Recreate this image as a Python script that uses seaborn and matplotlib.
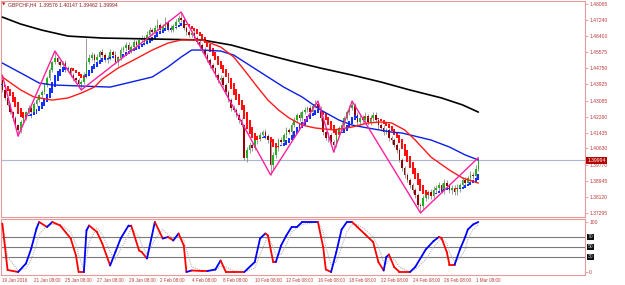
import numpy as np
import pandas as pd
import matplotlib
matplotlib.use("Agg")
import matplotlib.pyplot as plt
import matplotlib.transforms as mtransforms
from matplotlib import font_manager
import seaborn as sns

sns.set_theme(style="white")
installed = {f.name for f in font_manager.fontManager.ttflist}
if 'Liberation Sans Narrow' in installed:
    plt.rcParams['font.family'] = ['Liberation Sans Narrow', 'DejaVu Sans']
    fscale = 1.2
else:
    plt.rcParams['font.family'] = ['Liberation Sans', 'DejaVu Sans']
    fscale = 1.0

symbol = "GBPCHF,H4"
last_ohlc = ["1.39576", "1.40147", "1.39462", "1.39994"]
last_price = 1.39994

# H4 closes, 19 Jan 2016 -> 1 Mar 2016
first_open = 1.4414
closes = [
    1.4363, 1.4322, 1.4286, 1.4249, 1.4219, 1.4182, 1.4157, 1.4198, 1.4219, 1.4249,
    1.4270, 1.4249, 1.4291, 1.4311, 1.4337, 1.4353, 1.4389, 1.4425, 1.4466, 1.4507,
    1.4528, 1.4507, 1.4492, 1.4502, 1.4466, 1.4476, 1.4440, 1.4425, 1.4414, 1.4394,
    1.4404, 1.4440, 1.4507, 1.4528, 1.4543, 1.4518, 1.4533, 1.4559, 1.4543, 1.4518,
    1.4528, 1.4559, 1.4543, 1.4507, 1.4528, 1.4569, 1.4580, 1.4595, 1.4569, 1.4585,
    1.4610, 1.4595, 1.4621, 1.4631, 1.4610, 1.4647, 1.4672, 1.4662, 1.4683, 1.4698,
    1.4672, 1.4688, 1.4714, 1.4683, 1.4672, 1.4693, 1.4714, 1.4734, 1.4724, 1.4683,
    1.4662, 1.4647, 1.4657, 1.4631, 1.4610, 1.4595, 1.4569, 1.4543, 1.4518, 1.4492,
    1.4476, 1.4440, 1.4414, 1.4425, 1.4389, 1.4353, 1.4311, 1.4270, 1.4260, 1.4234,
    1.4208, 1.4182, 1.4012, 1.4053, 1.4079, 1.4064, 1.4105, 1.4115, 1.4131, 1.4146,
    1.4126, 1.4105, 1.3976, 1.4028, 1.4064, 1.4105, 1.4095, 1.4131, 1.4157, 1.4146,
    1.4182, 1.4208, 1.4234, 1.4219, 1.4249, 1.4260, 1.4270, 1.4249, 1.4280, 1.4291,
    1.4270, 1.4219, 1.4146, 1.4115, 1.4131, 1.4095, 1.4079, 1.4131, 1.4167, 1.4182,
    1.4219, 1.4249, 1.4270, 1.4286, 1.4234, 1.4198, 1.4219, 1.4208, 1.4229, 1.4198,
    1.4219, 1.4234, 1.4208, 1.4182, 1.4167, 1.4146, 1.4157, 1.4115, 1.4105, 1.4079,
    1.4053, 1.4002, 1.3961, 1.3925, 1.3899, 1.3873, 1.3847, 1.3821, 1.3770, 1.3765,
    1.3806, 1.3821, 1.3837, 1.3816, 1.3847, 1.3858, 1.3873, 1.3847, 1.3883, 1.3868,
    1.3847, 1.3858, 1.3837, 1.3858, 1.3873, 1.3899, 1.3883, 1.3909, 1.3925, 1.3919,
    1.3958, 1.3999,
]
# wicks in pips above / below the body
up_wick = [
    26, 8, 6, 10, 5, 8, 6, 12, 10, 8,
    14, 10, 8, 12, 6, 10, 8, 12, 10, 8,
    36, 10, 12, 8, 14, 10, 8, 12, 6, 10,
    8, 14, 124, 20, 18, 12, 16, 10, 14, 12,
    18, 14, 10, 20, 12, 16, 10, 18, 14, 12,
    16, 10, 14, 18, 12, 20, 16, 10, 14, 30,
    12, 14, 28, 10, 16, 12, 14, 18, 31, 14,
    10, 12, 8, 14, 10, 12, 8, 14, 10, 12,
    10, 8, 12, 16, 10, 8, 12, 10, 14, 8,
    10, 12, 8, 14, 18, 12, 10, 16, 14, 12,
    16, 10, 12, 14, 18, 12, 16, 10, 14, 12,
    16, 18, 12, 14, 10, 16, 12, 14, 10, 18,
    15, 12, 10, 8, 14, 10, 12, 16, 10, 14,
    12, 10, 14, 20, 12, 16, 18, 14, 20, 12,
    16, 14, 18, 12, 10, 14, 8, 12, 10, 8,
    10, 12, 8, 10, 8, 12, 10, 8, 12, 10,
    14, 18, 12, 16, 20, 14, 18, 12, 22, 14,
    12, 16, 14, 18, 12, 16, 14, 12, 18, 14,
    16, 15,
]
dn_wick = [
    10, 12, 8, 10, 14, 12, 32, 14, 10, 12,
    10, 30, 12, 10, 8, 14, 10, 8, 12, 10,
    8, 12, 10, 14, 8, 12, 10, 14, 12, 16,
    31, 12, 14, 10, 12, 16, 10, 14, 12, 10,
    16, 12, 14, 10, 18, 12, 10, 14, 12, 16,
    10, 14, 12, 10, 16, 12, 10, 14, 12, 10,
    14, 12, 10, 16, 12, 10, 14, 12, 10, 12,
    14, 10, 12, 8, 10, 14, 12, 10, 12, 16,
    12, 10, 14, 12, 10, 16, 12, 14, 10, 12,
    14, 12, 10, 18, 14, 16, 12, 20, 14, 12,
    16, 14, 51, 20, 14, 16, 12, 18, 14, 12,
    14, 12, 10, 16, 14, 12, 10, 14, 12, 10,
    12, 14, 16, 12, 18, 14, 36, 12, 10, 14,
    12, 10, 14, 12, 16, 18, 14, 16, 12, 18,
    14, 16, 12, 18, 14, 16, 12, 14, 18, 12,
    14, 12, 16, 14, 12, 18, 14, 16, 12, 36,
    18, 14, 20, 16, 18, 14, 20, 16, 22, 14,
    16, 18, 14, 16, 20, 14, 16, 12, 18, 14,
    12, 11,
]

# zigzag turning bars (H = swing high, L = swing low)
zz_idx = [0, 6, 20, 30, 68, 102, 120, 126, 133, 159, 181]
zz_kind = ['H', 'L', 'H', 'L', 'H', 'L', 'H', 'L', 'H', 'L', 'H']

# moving averages read at sample bars
ma_black_idx = [0, 7, 15, 25, 38, 57, 76, 87, 98, 110, 121, 133, 144, 155, 167, 175, 181]
ma_black = [1.4739, 1.4703, 1.4672, 1.4641, 1.4631, 1.4626, 1.4621, 1.4595, 1.4554,
            1.4512, 1.4476, 1.4440, 1.4404, 1.4363, 1.4322, 1.4286, 1.4249]
ma_blue_idx = [0, 7, 14, 19, 41, 57, 63, 68, 72, 76, 83, 88, 95, 101, 107, 114, 121,
               128, 133, 139, 148, 152, 163, 170, 176, 181]
ma_blue = [1.4502, 1.4451, 1.4399, 1.4389, 1.4378, 1.4430, 1.4482, 1.4533, 1.4569,
           1.4569, 1.4564, 1.4543, 1.4482, 1.4430, 1.4378, 1.4327, 1.4260, 1.4208,
           1.4182, 1.4167, 1.4146, 1.4141, 1.4105, 1.4069, 1.4028, 1.4002]
ma_red_idx = [0, 7, 12, 19, 25, 30, 35, 38, 44, 50, 57, 63, 68, 72, 76, 83, 88, 92, 97,
              101, 105, 109, 114, 119, 126, 133, 139, 144, 148, 153, 157, 163, 170, 175, 181]
ma_red = [1.4430, 1.4363, 1.4327, 1.4311, 1.4322, 1.4347, 1.4378, 1.4420, 1.4476,
          1.4518, 1.4569, 1.4605, 1.4621, 1.4621, 1.4621, 1.4585, 1.4533, 1.4466,
          1.4378, 1.4311, 1.4260, 1.4219, 1.4182, 1.4167, 1.4157, 1.4172, 1.4193,
          1.4198, 1.4193, 1.4157, 1.4105, 1.4017, 1.3950, 1.3909, 1.3883]

# stochastic main and signal lines read at sample bars
osc_idx = [0, 2, 6, 9, 11, 13, 14, 17, 19, 22, 26, 28, 29, 31, 32, 33, 36, 38, 41, 43,
           45, 48, 49, 52, 53, 55, 58, 61, 63, 65, 67, 69, 70, 72, 76, 78, 81, 83, 85, 88,
           92, 96, 98, 100, 101, 103, 104, 106, 108, 110, 112, 114, 120, 122, 123, 125,
           127, 129, 131, 133, 135, 138, 141, 143, 145, 146, 147, 149, 151, 155, 157,
           161, 164, 166, 167, 169, 170, 172, 174, 176, 177, 179, 181]
osc_val = [97, 4, 0, 17, 47, 87, 100, 90, 100, 93, 67, 33, 0, 0, 83, 93, 80, 57, 13, 40,
           67, 93, 93, 43, 40, 27, 100, 67, 70, 63, 77, 53, 0, 3, 2, 2, 5, 23, 0, 0,
           0, 20, 67, 77, 73, 20, 20, 53, 73, 90, 90, 100, 100, 50, 5, 0,
           40, 85, 100, 100, 90, 75, 60, 20, 3, 30, 35, 10, 0, 0, 10,
           45, 62, 70, 68, 40, 15, 15, 45, 70, 85, 95, 100]
osc_sig = [95, 30, 3, 7, 25, 55, 75, 93, 95, 95, 80, 55, 35, 5, 30, 60, 88, 75, 40, 25,
           45, 75, 88, 70, 55, 35, 65, 85, 75, 67, 70, 65, 45, 10, 3, 2, 3, 12, 10, 2,
           0, 8, 35, 60, 72, 50, 35, 35, 55, 80, 88, 95, 100, 80, 50, 15,
           20, 50, 80, 95, 95, 85, 70, 50, 20, 15, 25, 25, 10, 0, 5,
           25, 50, 62, 67, 58, 40, 20, 28, 45, 65, 85, 95]
levels = [70, 50, 30]

price_ticks = [1.48065, 1.47240, 1.46400, 1.45575, 1.44750, 1.43925, 1.43085,
               1.42260, 1.41435, 1.40630, 1.39770, 1.38945, 1.38120, 1.37295]
date_tick_idx = [0, 12, 24, 36, 48, 60, 72, 84, 96, 108, 120, 132, 144, 156, 168, 180]
date_labels = ["19 Jan 2016", "21 Jan 08:00", "25 Jan 08:00", "27 Jan 08:00",
               "29 Jan 08:00", "2 Feb 08:00", "4 Feb 08:00", "8 Feb 08:00",
               "10 Feb 08:00", "12 Feb 08:00", "16 Feb 08:00", "18 Feb 08:00",
               "22 Feb 08:00", "24 Feb 08:00", "26 Feb 08:00", "1 Mar 08:00"]

# ---- build candles
c = np.array(closes)
n = len(c)
o = np.r_[first_open, c[:-1]]
h = np.maximum(o, c) + np.array(up_wick) * 1e-4
l = np.minimum(o, c) - np.array(dn_wick) * 1e-4
x = np.arange(n)

# smoothed heiken ashi boxes
df = pd.DataFrame({'o': o, 'h': h, 'l': l, 'c': c})
sm = df.ewm(span=6, adjust=False).mean()
ha_c = sm.mean(axis=1).to_numpy()
ha_o = np.empty(n)
ha_o[0] = (sm.o[0] + sm.c[0]) / 2
for i in range(1, n):
    ha_o[i] = (ha_o[i - 1] + ha_c[i - 1]) / 2

W, H = 625, 285
fig = plt.figure(figsize=(W / 100, H / 100), dpi=100)
fig.patch.set_facecolor('white')
ax = fig.add_axes([1 / W, 1 - 217 / H, 584 / W, 216 / H])
osc = fig.add_axes([1 / W, 1 - 275 / H, 584 / W, 56 / H])

frame = '#e69a9a'
txt = '#c23a3a'
fs_tick = 3.6 * fscale
fs_date = 3.3 * fscale
fs_title = 3.7 * fscale
for a in (ax, osc):
    a.set_facecolor('white')
    a.grid(False)
    for s in a.spines.values():
        s.set_color(frame)
        s.set_linewidth(0.8)
    a.set_xlim(-0.5, -0.5 + 584 / 2.63)

ax.set_ylim(1.37080, 1.48220)
ax.axhline(last_price, color='#aab6d4', lw=0.8, zorder=1)

ax.vlines(x, l, h, color='#8c8c8c', lw=0.6, zorder=2)
bull = c >= o
body = np.maximum(np.abs(c - o), 0.00006)
ax.bar(x[bull], body[bull], bottom=o[bull], width=0.6, color='#22b022', lw=0, zorder=3)
ax.bar(x[~bull], body[~bull], bottom=c[~bull], width=0.6, color='#960000', lw=0, zorder=3)

ha_up = ha_c >= ha_o
ax.bar(x, ha_c - ha_o, bottom=ha_o, width=0.75, lw=0, zorder=4,
       color=np.where(ha_up, '#1430ff', '#ff1010'))

sns.lineplot(x=ma_black_idx, y=ma_black, ax=ax, color='black', lw=1.2, zorder=5)
sns.lineplot(x=ma_blue_idx, y=ma_blue, ax=ax, color='#0a1ee6', lw=1.0, zorder=5)
sns.lineplot(x=ma_red_idx, y=ma_red, ax=ax, color='#ff1a1a', lw=1.0, zorder=5)

zz_price = [h[i] if k == 'H' else l[i] for i, k in zip(zz_idx, zz_kind)]
sns.lineplot(x=zz_idx, y=zz_price, ax=ax, color='#ff20a0', lw=1.0, sort=False, zorder=6)

ax.yaxis.tick_right()
ax.set_yticks(price_ticks)
ax.set_yticklabels([f"{p:.5f}" for p in price_ticks])
ax.tick_params(axis='y', labelsize=fs_tick, colors=frame, labelcolor=txt, length=2, width=0.6, pad=1)
ax.set_xticks([])
ax.set_xlabel('')
ax.set_ylabel('')

trans = mtransforms.blended_transform_factory(ax.transAxes, ax.transData)
ax.text(1.004, last_price, f"{last_price:.5f}", transform=trans, fontsize=fs_tick, color='white',
        va='center', ha='left', zorder=10, clip_on=False,
        bbox=dict(boxstyle='square,pad=0.2', fc='#b40000', ec='none'))

fig.text(2 / W, 1 - 4.5 / H, "\u25bc", fontsize=3.2, color='#d01010', va='center', ha='left',
         family=['DejaVu Sans'])
fig.text(8 / W, 1 - 4.5 / H, f"{symbol}  " + " ".join(last_ohlc), fontsize=fs_title,
         color='#8a1c1c', va='center', ha='left')

# ---- oscillator
osc.set_ylim(-6, 106)
for lv in levels:
    osc.axhline(lv, color='#7a7a7a', lw=0.8, zorder=1)
osc.plot(osc_idx, osc_sig, color='#b4b4b4', lw=0.8, ls=(0, (1, 1)), zorder=2)
oi = np.array(osc_idx)
ov = np.array(osc_val)
col = '#ff0000'
for k in range(len(oi) - 1):
    if ov[k + 1] > ov[k]:
        col = '#0000ff'
    elif ov[k + 1] < ov[k]:
        col = '#ff0000'
    osc.plot(oi[k:k + 2], ov[k:k + 2], color=col, lw=1.3, solid_capstyle='round', zorder=3)

osc.yaxis.tick_right()
osc.set_yticks([100, 0])
osc.set_yticklabels(['100', '0'])
osc.tick_params(axis='y', labelsize=fs_tick, colors=frame, labelcolor=txt, length=2, width=0.6, pad=1)
trans2 = mtransforms.blended_transform_factory(osc.transAxes, osc.transData)
for lv in levels:
    osc.text(1.004, lv, str(lv), transform=trans2, fontsize=fs_tick, color='#d0d0d0',
             va='center', ha='left', clip_on=False,
             bbox=dict(boxstyle='square,pad=0.15', fc='#101010', ec='none'))

osc.set_xticks(date_tick_idx)
osc.set_xticklabels(date_labels, ha='left')
osc.tick_params(axis='x', labelsize=fs_date, colors=frame, labelcolor=txt, length=2, width=0.6, pad=0.5)

fig.savefig("out.png", dpi=100, facecolor='white')
